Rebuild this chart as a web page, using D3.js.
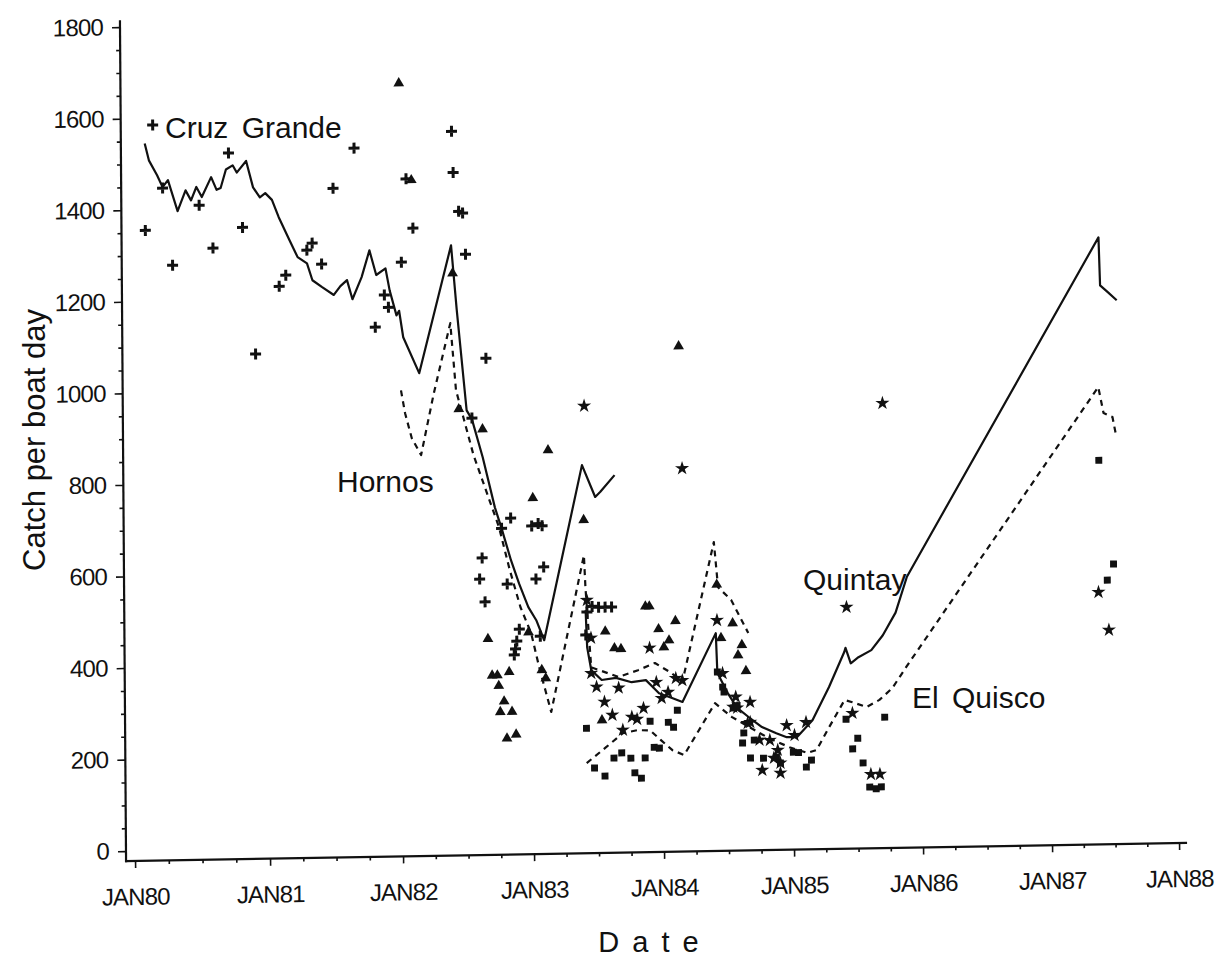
<!DOCTYPE html>
<html>
<head>
<meta charset="utf-8">
<script src="https://cdn.jsdelivr.net/npm/d3@7"></script>
<style>
  body { margin: 0; background: #fff; }
  svg { font-family: "Liberation Sans", Arial, Helvetica, sans-serif; }
</style>
</head>
<body>
<svg id="chart"></svg>
<script>
// values: [decimal year, catch per boat day]
var cruzPoints = [[1980.17,1585],[1980.11,1355],[1980.24,1447],[1980.31,1278],[1980.51,1408],[1980.61,1314],
  [1980.73,1521],[1980.83,1358],[1980.92,1081],[1981.10,1228],[1981.15,1252],[1981.31,1306],[1981.35,1321],
  [1981.42,1275],[1981.51,1440],[1981.67,1527],[1981.82,1135],[1981.89,1205],[1981.92,1178],[1982.02,1276],
  [1982.06,1458],[1982.11,1350],[1982.41,1560],[1982.42,1470],[1982.46,1385],[1982.49,1381],[1982.51,1291],
  [1982.66,1063],[1982.55,933],[1982.77,691],[1982.84,713],[1983.00,695],[1983.05,700],[1983.08,695],
  [1983.09,605],[1983.03,579],[1982.62,627],[1982.60,581],[1982.64,531],[1982.81,569],[1982.90,470],
  [1982.88,444],[1982.87,427],[1982.86,414],[1983.06,454],[1983.46,517],[1983.51,515],[1983.56,515],
  [1983.61,515],[1983.42,505],[1983.41,455]];

var hornosPoints = [[1982.01,1667],[1982.10,1455],[1982.41,1250],[1982.45,953],[1982.63,908],[1983.13,860],
  [1984.14,1082],[1983.01,756],[1983.40,706],[1982.66,450],[1982.69,370],[1982.73,370],[1982.82,377],
  [1982.74,347],[1982.78,313],[1982.75,290],[1982.84,290],[1982.80,232],[1982.87,240],[1982.97,463],
  [1983.07,380],[1983.10,362],[1983.87,515],[1983.90,515],[1983.56,462],[1983.63,425],[1983.68,423],
  [1983.97,465],[1984.10,482],[1984.05,440],[1984.01,425],[1983.53,268],[1984.42,560],[1984.54,475],
  [1984.45,443],[1984.61,427],[1984.58,405],[1984.64,370]];

var quintayPoints = [[1983.41,955],[1984.16,815],[1985.71,950],[1985.42,506],[1987.38,529],[1987.46,446],
  [1983.42,531],[1983.45,448],[1983.45,371],[1983.49,341],[1983.66,338],[1983.55,308],[1983.61,279],
  [1983.69,246],[1983.76,274],[1983.80,269],[1983.85,293],[1983.90,424],[1983.95,349],[1984.04,327],
  [1983.99,314],[1984.10,357],[1984.15,352],[1984.42,482],[1984.46,366],[1984.54,292],[1984.57,290],
  [1984.67,302],[1984.67,258],[1984.74,219],[1984.82,218],[1984.76,153],[1984.90,146],[1984.85,179],
  [1984.90,168],[1984.95,250],[1985.01,228],[1985.10,256],[1984.56,314],[1984.65,256],[1984.88,196],
  [1985.46,274],[1985.60,140],[1985.67,140]];

var quiscoPoints = [[1983.41,251],[1983.47,164],[1983.55,146],[1983.62,185],[1983.68,196],[1983.75,184],
  [1983.78,152],[1983.83,140],[1983.86,184],[1983.90,264],[1983.93,207],[1983.97,205],[1984.04,261],
  [1984.08,250],[1984.11,287],[1984.42,369],[1984.46,336],[1984.47,325],[1984.54,290],[1984.57,295],
  [1984.62,235],[1984.67,180],[1984.61,213],[1984.70,219],[1984.77,179],[1984.87,181],[1984.90,168],
  [1985.00,191],[1985.04,190],[1985.10,158],[1985.14,173],[1985.41,261],[1985.50,219],[1985.46,196],
  [1985.54,165],[1985.71,264],[1985.59,112],[1985.64,108],[1985.68,112],[1987.39,817],[1987.50,590],
  [1987.45,555]];

var cruzLine = [[1980.11,1545],[1980.14,1508],[1980.20,1475],[1980.24,1449],[1980.28,1464],[1980.35,1396],
  [1980.41,1441],[1980.45,1419],[1980.49,1448],[1980.53,1426],[1980.60,1469],[1980.64,1441],[1980.67,1445],
  [1980.71,1485],[1980.76,1494],[1980.79,1478],[1980.86,1503],[1980.91,1445],[1980.96,1423],[1981.00,1432],
  [1981.05,1417],[1981.10,1379],[1981.18,1328],[1981.24,1291],[1981.31,1277],[1981.35,1240],[1981.42,1225],
  [1981.51,1207],[1981.56,1226],[1981.61,1239],[1981.65,1197],[1981.72,1245],[1981.78,1303],[1981.83,1249],
  [1981.90,1263],[1981.93,1215],[1981.98,1160],[1982.00,1170],[1982.03,1112],[1982.15,1033],[1982.40,1311],
  [1982.44,1170],[1982.51,950],[1982.55,930],[1982.63,847],[1982.72,737],[1982.77,691],[1982.84,621],
  [1982.90,570],[1982.97,518],[1983.03,489],[1983.09,445],[1983.39,826],[1983.49,756],[1983.53,767],
  [1983.64,803]];

var hornosLine = [[1982.01,996],[1982.04,946],[1982.09,891],[1982.16,854],[1982.26,988],[1982.39,1141],
  [1982.43,994],[1982.49,929],[1982.56,852],[1982.75,694],[1982.83,600],[1982.91,518],[1982.99,461],
  [1983.05,386],[1983.14,288],[1983.40,629],[1983.41,559],[1983.45,384],[1983.66,362],[1983.81,376],
  [1983.94,391],[1984.07,368],[1984.15,348],[1984.40,653],[1984.43,554],[1984.53,526],[1984.66,453]];

var quintayLine = [[1983.41,509],[1983.42,428],[1983.45,378],[1983.53,356],[1983.64,360],[1983.76,350],
  [1983.87,354],[1983.97,325],[1984.07,314],[1984.15,305],[1984.41,454],[1984.42,367],[1984.50,322],
  [1984.57,290],[1984.66,269],[1984.76,247],[1984.87,233],[1984.95,224],[1985.03,224],[1985.15,260],
  [1985.28,332],[1985.40,408],[1985.41,417],[1985.45,383],[1985.51,396],[1985.61,411],[1985.70,443],
  [1985.80,492],[1985.89,570],[1987.40,1304],[1987.41,1199],[1987.47,1184],[1987.54,1166]];

var quiscoLine = [[1983.41,175],[1983.56,209],[1983.69,239],[1983.80,245],[1983.90,244],[1983.98,223],
  [1984.07,200],[1984.16,189],[1984.40,301],[1984.53,270],[1984.66,248],[1984.81,223],[1984.97,202],
  [1985.11,189],[1985.18,195],[1985.28,245],[1985.40,303],[1985.46,298],[1985.57,287],[1985.67,302],
  [1985.77,327],[1985.88,373],[1987.39,977],[1987.43,920],[1987.50,911],[1987.53,867]];

var yearTicks = d3.range(1980, 1989);
var valueTicks = d3.range(0, 1801, 200);

const width = 1217, height = 957;
// the scan is slightly skewed, so the plot is drawn in a straight frame then sheared
const tickPx = [135, 270, 403, 534, 664, 794, 923, 1052, 1179];
const shear = "matrix(1,-0.01724,0.00728,1,-6.2,2.33)";

var svg = d3.select("#chart")
  .attr("width", width)
  .attr("height", height)
  .attr("viewBox", [0, 0, width, height]);

svg.append("rect").attr("width", width).attr("height", height).attr("fill", "#fff");

var x = d3.scaleLinear().domain(yearTicks).range(tickPx);
var y = d3.scaleLinear().domain([0, 1800]).range([851, 27]);

const chart = svg.append("g").attr("transform", shear);
const ink = "#111";

// axes
chart.append("line").attr("x1", 126).attr("x2", 126).attr("y1", 862).attr("y2", 20)
  .attr("stroke", ink).attr("stroke-width", 2.2);
chart.append("line").attr("x1", 125).attr("x2", 1187).attr("y1", 861).attr("y2", 861)
  .attr("stroke", ink).attr("stroke-width", 2.2);

chart.append("g").attr("transform", "translate(126,0)")
  .call(d3.axisLeft(y).tickValues(valueTicks).tickSize(8).tickPadding(9).tickFormat(d3.format("d")));
chart.append("g").attr("transform", "translate(126,0)")
  .call(d3.axisLeft(y).tickValues(d3.range(50, 1800, 50).filter(d => d % 200)).tickSize(4).tickFormat(""));

chart.append("g").attr("transform", "translate(0,861)")
  .call(d3.axisBottom(x).tickValues(yearTicks).tickSize(7).tickPadding(20)
    .tickFormat(d => "JAN" + String(d).slice(2)));
chart.append("g").attr("transform", "translate(0,861)")
  .call(d3.axisBottom(x).tickValues(d3.range(1980.25, 1988, 0.25).filter(d => d % 1)).tickSize(3.5).tickFormat(""));

chart.selectAll(".domain").remove();
chart.selectAll(".tick line").attr("stroke", ink).attr("stroke-width", 1.6);
chart.selectAll(".tick text")
  .attr("fill", ink)
  .style("font-size", "24px")
  .style("letter-spacing", "-0.8px")
  .style("font-family", "'Liberation Sans', Arial, sans-serif");

// fitted lines
var line = d3.line().x(d => x(d[0])).y(d => y(d[1]));
function drawLine(data, dash) {
  chart.append("path")
    .datum(data)
    .attr("fill", "none")
    .attr("stroke", ink)
    .attr("stroke-width", 2.2)
    .attr("stroke-linejoin", "round")
    .attr("stroke-dasharray", dash)
    .attr("d", line);
}
drawLine(cruzLine, null);
drawLine(hornosLine, "6,5");
drawLine(quintayLine, null);
drawLine(quiscoLine, "6,5");

// observations
chart.append("g").selectAll("path")
  .data(cruzPoints)
  .join("path")
  .attr("transform", d => "translate(" + x(d[0]) + "," + y(d[1]) + ")")
  .attr("d", "M-5.5,0H5.5M0,-5.5V5.5")
  .attr("stroke", ink)
  .attr("stroke-width", 3)
  .attr("fill", "none");

function drawSymbols(data, type, size) {
  chart.append("g").selectAll("path")
    .data(data)
    .join("path")
    .attr("transform", d => "translate(" + x(d[0]) + "," + y(d[1]) + ")")
    .attr("d", d3.symbol().type(type).size(size))
    .attr("fill", ink);
}
drawSymbols(hornosPoints, d3.symbolTriangle, 50);
drawSymbols(quintayPoints, d3.symbolStar, 62);
drawSymbols(quiscoPoints, d3.symbolSquare, 48);

// titles and site labels
svg.append("text")
  .attr("transform", "translate(45,440) rotate(-90)")
  .attr("text-anchor", "middle")
  .attr("fill", ink)
  .style("font-size", "31px")
  .text("Catch per boat day");

svg.append("text")
  .attr("x", 655).attr("y", 952)
  .attr("text-anchor", "middle")
  .attr("fill", ink)
  .style("font-size", "29px")
  .style("letter-spacing", "13px")
  .text("Date");

var siteLabels = [
  {name: "Cruz Grande", x: 165, y: 138},
  {name: "Hornos", x: 337, y: 492},
  {name: "Quintay", x: 803, y: 590},
  {name: "El Quisco", x: 912, y: 708}
];
svg.append("g").selectAll("text")
  .data(siteLabels)
  .join("text")
  .attr("x", d => d.x).attr("y", d => d.y)
  .attr("fill", ink)
  .style("font-size", "30px")
  .style("word-spacing", "5px")
  .text(d => d.name);
</script>
</body>
</html>
